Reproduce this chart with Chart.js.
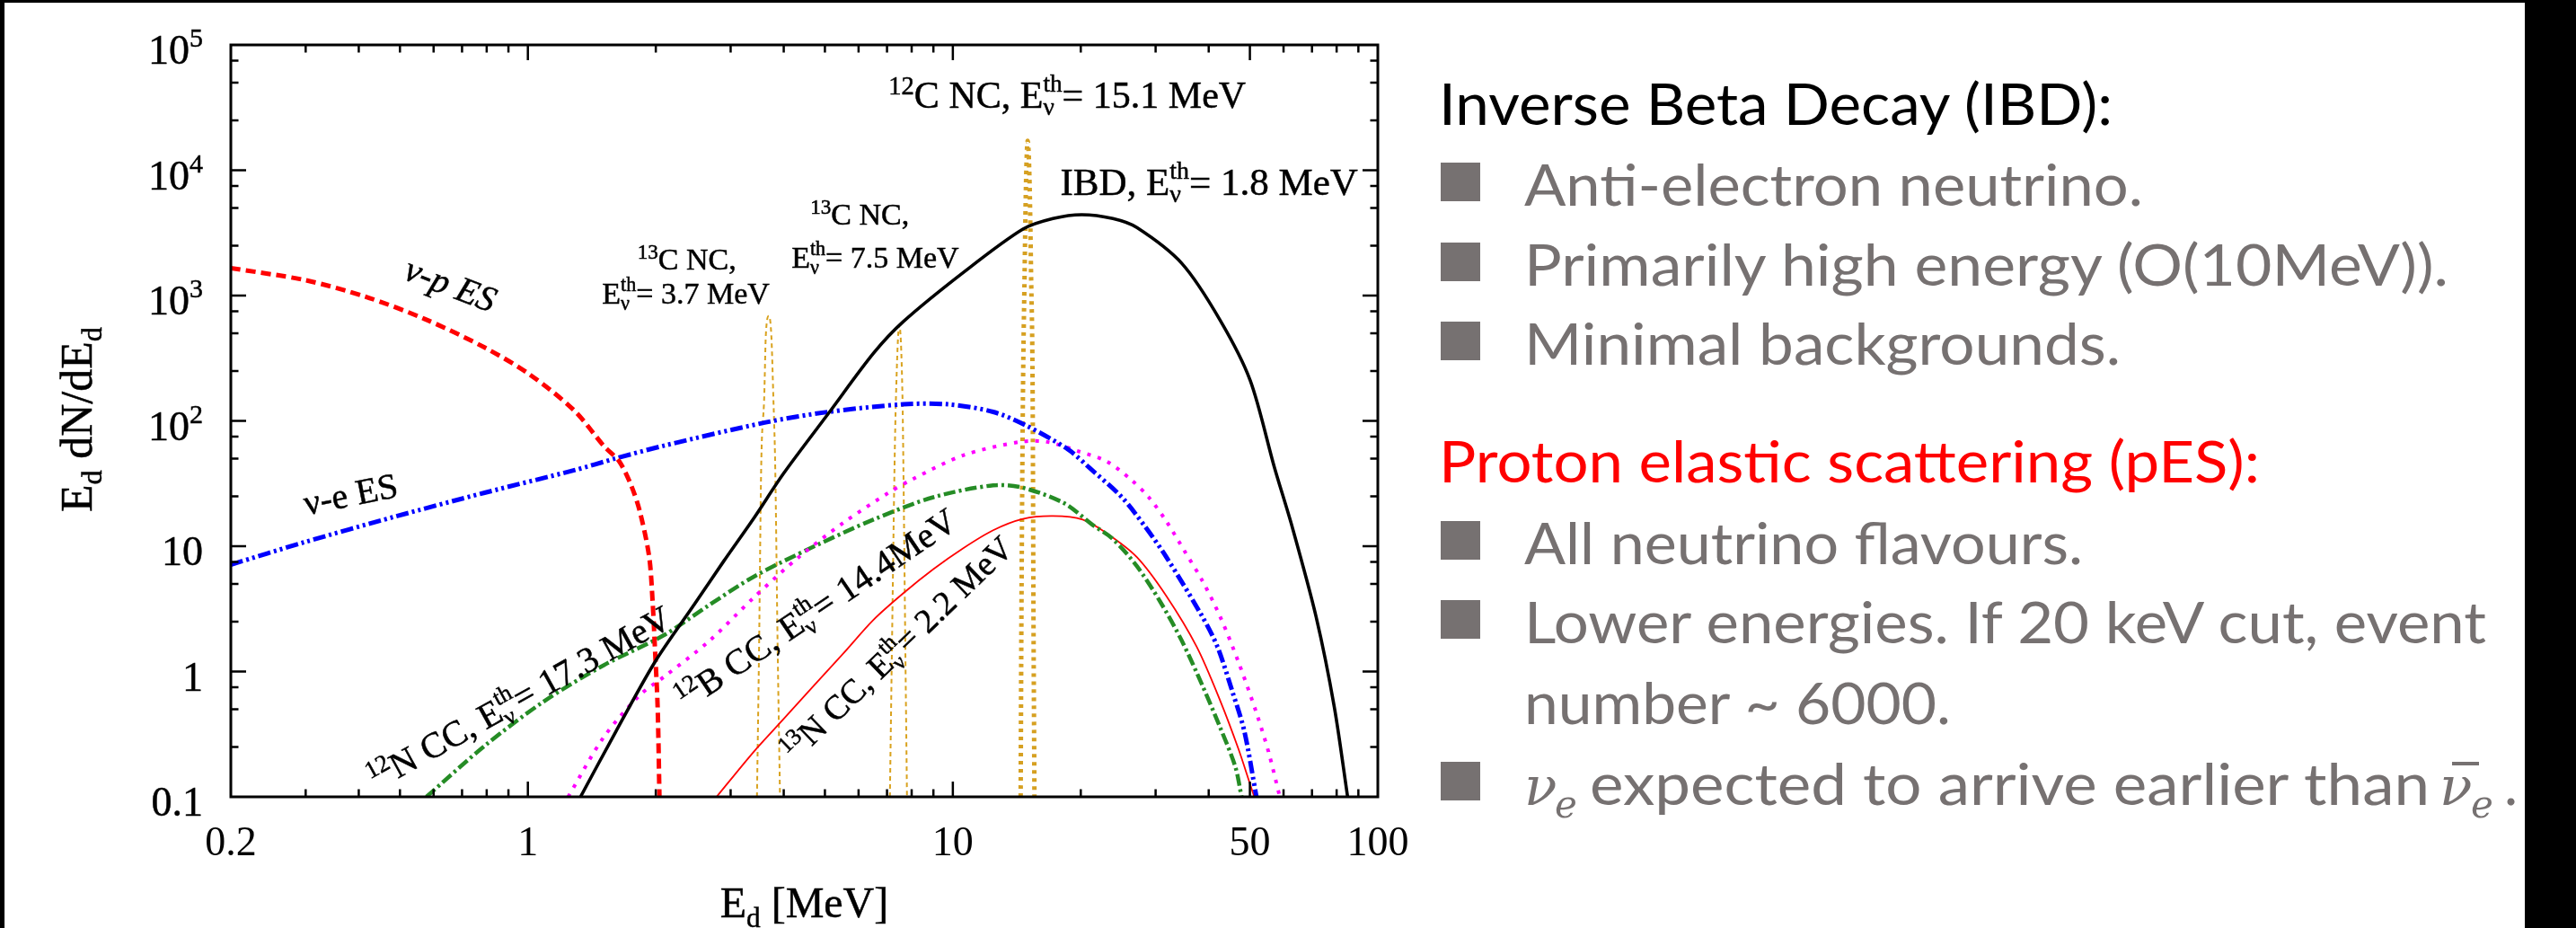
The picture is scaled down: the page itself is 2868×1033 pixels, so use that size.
<!DOCTYPE html>
<html><head><meta charset="utf-8">
<script src="https://cdn.jsdelivr.net/npm/chart.js@4.4.1/dist/chart.umd.min.js"></script>
<style>
html,body{margin:0;padding:0;background:#fff;}
#wrap{position:relative;width:2868px;height:1033px;overflow:hidden;background:#fff;}
#cv{position:absolute;left:0;top:0;}
#panel{position:absolute;left:0;top:0;}
.bar{position:absolute;background:#000;}
</style></head><body>
<div id="wrap">
<canvas id="cv" width="2868" height="1033"></canvas>
<svg id="panel" width="2868" height="1033" xmlns="http://www.w3.org/2000/svg"></svg>
<div class="bar" style="left:0;top:0;width:2868px;height:3px"></div>
<div class="bar" style="left:0;top:0;width:5px;height:1033px"></div>
<div class="bar" style="left:2811px;top:0;width:57px;height:1033px"></div>
</div>
<script>
// ---------------- DATA ----------------
const xTickValues = [0.2,0.3,0.4,0.5,0.6,0.7,0.8,0.9,1,2,3,4,5,6,7,8,9,10,20,30,40,50,60,70,80,90,100];
const xMajorTicks = [1,10,50];
const xLabelValues = [0.2,1,10,50,100];
const yTickValues = [0.1,0.25,0.5,0.75,1,2.5,5,7.5,10,25,50,75,100,250,500,750,1e3,2.5e3,5e3,7.5e3,1e4,2.5e4,5e4,7.5e4,1e5];
const yLabelValues = [0.1,1,10,100,1e3,1e4,1e5];
const yLabelTexts = ['0.1','1','10','10^2','10^3','10^4','10^5'];

// nu-p elastic scattering (red dashed)
const vpX = [0.2,0.299,0.414,0.572,0.791,1.009,1.286,1.512,1.64,1.75,1.836,1.93,1.966,1.99,2.02,2.04];
const vpY = [1656,1328,982,650,385,235,121,62.6,47.6,30.6,18.7,8.18,3.58,1.57,0.52,0.1];
// nu-e elastic scattering (blue dash-dot-dot)
const veX = [0.2,0.299,0.486,0.791,1.286,1.614,2.09,3.63,5.1,7.65,9.76,12.44,14.86,18.66,20.9,24.98,28.4,31.8,38.7,41.96,45.5,48.5,51.8];
const veY = [7.13,10.8,17.2,26.7,40.4,50.3,63.4,97.3,118,135.5,135.5,118,92,59.3,42.6,24.6,14.2,8.18,2.72,1.57,0.687,0.336,0.1];
// IBD (black solid)
const ibdX = [1.33,1.614,1.99,2.46,2.89,3.4,4.0,5.1,6.5,7.65,10.58,14.62,17.2,20.1,23.8,27.1,34.6,42.6,50.1,57.1,62.9,71.6,79.0,84.9];
const ibdY = [0.1,0.336,1.19,3.4,7.6,16.7,38.2,115,345,620,1525,3388,4110,4420,4110,3486,1800,632,210,42.6,14.2,2.72,0.52,0.1];
// 12B CC (magenta dotted)
const b12X = [1.244,1.51,1.836,2.09,2.67,3.4,4.34,5.53,7.06,8.03,10.58,14.4,16.66,19.6,23.0,26.2,28.9,31.8,35.1,38.7,42.6,47.0,51.8,55.3,58.8];
const b12Y = [0.1,0.301,0.65,0.906,1.75,3.89,8.18,15.4,26.7,34.2,53.1,68,68,57.7,47.6,34.2,24.6,15.8,9.13,5.26,2.72,1.19,0.468,0.229,0.1];
// 12N CC (green dash-dot)
const n12X = [0.577,0.791,1.094,1.512,2.09,2.67,3.4,4.7,6.5,9.0,12.44,14.6,18.3,21.2,23.8,27.1,30.8,34.6,38.7,42.6,46.2,47.8];
const n12Y = [0.1,0.255,0.582,1.127,1.95,3.39,5.71,9.91,16.3,24.6,30.6,29.3,22,15.0,11.4,6.93,3.58,1.75,0.767,0.355,0.174,0.1];
// 13N CC (thin red)
const n13X = [2.78,3.4,4.0,4.7,5.53,6.5,7.65,9.0,10.58,12.44,14.62,17.2,20.2,23.0,27.1,31.8,37.5,42.6,47.0,50.1,51.2];
const n13Y = [0.1,0.229,0.419,0.767,1.40,2.58,4.22,6.56,9.64,13.4,16.5,17.4,16.3,12.7,8.18,4.0,1.57,0.582,0.241,0.125,0.1];
// 13C NC 3.7 MeV line
const c13aX = [3.46,3.50,3.54,3.60,3.63,3.69,3.74,3.78,3.82,3.87,3.92];
const c13aY = [0.1,1.57,42.6,160,481,686,481,160,42.6,1.57,0.1];
// 13C NC 7.5 MeV line
const c13bX = [7.11,7.19,7.29,7.35,7.48,7.61,7.65,7.73,7.80];
const c13bY = [0.1,1.57,42.6,160,582,160,42.6,1.57,0.1];
// 12C NC 15.1 MeV line
const c12X = [14.44,14.5,14.62,14.75,14.86,15.0,15.16,15.28,15.41,15.48,15.56];
const c12Y = [0.1,2.72,160,1443,7520,17170,7520,1443,160,2.72,0.1];

// annotation texts (anchored in data coordinates)
const annotations = [
  {segs:[{sup:'12'},'C NC, E',{ss:['ν','th']},'= 15.1 MeV'], x:7.06, y:31470, size:42},
  {segs:['IBD, E',{ss:['ν','th']},'= 1.8 MeV'], x:17.9, y:6377, size:43},
  {segs:[{sup:'13'},'C NC,'], x:4.62, y:3681, size:34},
  {segs:['E',{ss:['ν','th']},'= 7.5 MeV'], x:4.17, y:1666, size:34},
  {segs:[{sup:'13'},'C NC,'], x:1.81, y:1611, size:34},
  {segs:['E',{ss:['ν','th']},'= 3.7 MeV'], x:1.495, y:861, size:34},
  {segs:['ν-p ES'], x:0.506, y:1366, size:40, italic:true, angle:21},
  {segs:['ν-e ES'], x:0.301, y:17.7, size:40, angle:-11.3},
  {segs:[{sup:'12'},'N CC, E',{ss:['ν','th']},'= 17.3 MeV'], x:0.44, y:0.112, size:40, angle:-29},
  {segs:[{sup:'12'},'B CC, E',{ss:['ν','th']},'= 14.4MeV'], x:2.36, y:0.485, size:40, angle:-34},
  {segs:[{sup:'13'},'N CC, E',{ss:['ν','th']},'= 2.2 MeV'], x:4.25, y:0.186, size:38, angle:-44}
];
const xTitle = ['E',{sub:'d'},' [MeV]'];
const yTitle = ['E',{sub:'d'},' dN/dE',{sub:'d'}];

// right-hand text panel
const panelLines = [
  {text:'Inverse Beta Decay (IBD):', x:1602, base:139, w:750, color:'#000000'},
  {text:'Anti-electron neutrino.', x:1697, base:229, w:689, color:'#767171', bullet:true},
  {text:'Primarily high energy (O(10MeV)).', x:1697, base:318, w:1029, color:'#767171', bullet:true},
  {text:'Minimal backgrounds.', x:1697, base:406, w:664, color:'#767171', bullet:true},
  {text:'Proton elastic scattering (pES):', x:1602, base:537, w:914, color:'#ff0000'},
  {text:'All neutrino flavours.', x:1697, base:628, w:622, color:'#767171', bullet:true},
  {text:'Lower energies. If 20 keV cut, event', x:1697, base:716, w:1071, color:'#767171', bullet:true},
  {text:'number ~ 6000.', x:1697, base:806, w:475, color:'#767171'},
  {text:' expected to arrive earlier than ', x:1770, base:896, w:935, color:'#767171', bullet:true}
];

// ---------------- RENDER ----------------
const SERIF = '"Liberation Serif","Times New Roman",serif';
const mk = (xs, ys) => xs.map((x, i) => ({x, y: ys[i]}));
const smooth = {pointRadius:0, fill:false, tension:0.3, borderCapStyle:'butt', borderJoinStyle:'round'};
const peak = {pointRadius:0, fill:false, cubicInterpolationMode:'monotone', borderCapStyle:'butt', borderJoinStyle:'round'};

function segFont(size, italic){ return (italic?'italic ':'') + size + 'px ' + SERIF; }
function richMeasure(ctx, segs, size, italic){
  let w = 0;
  for (const s of segs){
    if (typeof s === 'string'){ ctx.font = segFont(size, italic); w += ctx.measureText(s).width; }
    else if (s.sup){ ctx.font = segFont(size*0.68, italic); w += ctx.measureText(s.sup).width; }
    else if (s.sub){ ctx.font = segFont(size*0.65, italic); w += ctx.measureText(s.sub).width; }
    else if (s.ss){ ctx.font = segFont(size*0.65, italic); w += Math.max(ctx.measureText(s.ss[0]).width, ctx.measureText(s.ss[1]).width); }
  }
  return w;
}
function richDraw(ctx, segs, x, y, o){
  const size = o.size, italic = !!o.italic;
  ctx.save();
  ctx.translate(x, y);
  ctx.rotate((o.angle||0)*Math.PI/180);
  ctx.fillStyle = o.color || '#000';
  ctx.strokeStyle = o.color || '#000';
  ctx.lineWidth = 0.5;
  ctx.textBaseline = 'alphabetic';
  ctx.textAlign = 'left';
  const put = (t, px, py) => { ctx.fillText(t, px, py); ctx.strokeText(t, px, py); };
  let cx = 0;
  if (o.align === 'center') cx = -richMeasure(ctx, segs, size, italic)/2;
  for (const s of segs){
    if (typeof s === 'string'){ ctx.font = segFont(size, italic); put(s, cx, 0); cx += ctx.measureText(s).width; }
    else if (s.sup){ ctx.font = segFont(size*0.68, italic); put(s.sup, cx, -size*0.36); cx += ctx.measureText(s.sup).width; }
    else if (s.sub){ ctx.font = segFont(size*0.65, italic); put(s.sub, cx, size*0.22); cx += ctx.measureText(s.sub).width; }
    else if (s.ss){ ctx.font = segFont(size*0.65, italic);
      put(s.ss[0], cx, size*0.2); put(s.ss[1], cx, -size*0.42);
      cx += Math.max(ctx.measureText(s.ss[0]).width, ctx.measureText(s.ss[1]).width); }
  }
  ctx.restore();
}

const decor = {
  id:'decor',
  afterDatasetsDraw(chart){
    const {ctx, chartArea:a, scales:{x, y}} = chart;
    ctx.save();
    ctx.strokeStyle = '#000'; ctx.lineWidth = 2.5; ctx.lineCap = 'butt';
    ctx.beginPath();
    for (const v of xTickValues){
      if (v <= 0.2 || v >= 100) continue;
      const px = x.getPixelForValue(v); const L = xMajorTicks.includes(v) ? 17 : 8.5;
      ctx.moveTo(px, a.bottom); ctx.lineTo(px, a.bottom - L);
      ctx.moveTo(px, a.top); ctx.lineTo(px, a.top + L);
    }
    for (const v of yTickValues){
      if (v <= 0.1 || v >= 1e5) continue;
      const py = y.getPixelForValue(v); const L = yLabelValues.includes(v) ? 17 : 8.5;
      ctx.moveTo(a.left, py); ctx.lineTo(a.left + L, py);
      ctx.moveTo(a.right, py); ctx.lineTo(a.right - L, py);
    }
    ctx.stroke();
    ctx.lineWidth = 3;
    ctx.strokeRect(a.left, a.top, a.right - a.left, a.bottom - a.top);
    ctx.restore();
  },
  afterDraw(chart){
    const {ctx, chartArea:a, scales:{x, y}} = chart;
    // y tick labels with superscripts
    ctx.save();
    ctx.fillStyle = '#000'; ctx.strokeStyle = '#000'; ctx.lineWidth = 0.5;
    yLabelValues.forEach((v, i) => {
      const py = y.getPixelForValue(v);
      const t = yLabelTexts[i].split('^');
      ctx.font = '46px ' + SERIF;
      const wb = ctx.measureText(t[0]).width;
      let ws = 0;
      if (t[1]){ ctx.font = '30px ' + SERIF; ws = ctx.measureText(t[1]).width; }
      const right = 226;
      ctx.textAlign = 'left'; ctx.textBaseline = 'alphabetic';
      ctx.font = '46px ' + SERIF;
      ctx.fillText(t[0], right - ws - wb, py + 21); ctx.strokeText(t[0], right - ws - wb, py + 21);
      if (t[1]){ ctx.font = '30px ' + SERIF; ctx.fillText(t[1], right - ws, py + 2); ctx.strokeText(t[1], right - ws, py + 2); }
    });
    ctx.restore();
    // axis titles
    richDraw(ctx, xTitle, (a.left + a.right)/2, 1021, {size:48, align:'center'});
    richDraw(ctx, yTitle, 102, 467, {size:50, align:'center', angle:-90});
    // annotations
    for (const an of annotations){
      richDraw(ctx, an.segs, x.getPixelForValue(an.x), y.getPixelForValue(an.y), an);
    }
  }
};

const chart = new Chart(document.getElementById('cv'), {
  type:'line',
  data:{datasets:[
    {...smooth, label:'IBD', data:mk(ibdX, ibdY), borderColor:'#000000', borderWidth:3.6},
    {...smooth, label:'nu-p ES', data:mk(vpX, vpY), borderColor:'#ff0000', borderWidth:5, borderDash:[11,6]},
    {...smooth, label:'nu-e ES', data:mk(veX, veY), borderColor:'#0000ff', borderWidth:5, borderDash:[14,4,3,4,3,4]},
    {...smooth, label:'12B CC', data:mk(b12X, b12Y), borderColor:'#ff00ff', borderWidth:4, borderDash:[4,8]},
    {...smooth, label:'12N CC', data:mk(n12X, n12Y), borderColor:'#258c25', borderWidth:4.5, borderDash:[13,4,3,4]},
    {...smooth, label:'13N CC', data:mk(n13X, n13Y), borderColor:'#ff0000', borderWidth:1.8},
    {...peak, label:'13C NC 3.7', data:mk(c13aX, c13aY), borderColor:'#d9a21e', borderWidth:2, borderDash:[5,4]},
    {...peak, label:'13C NC 7.5', data:mk(c13bX, c13bY), borderColor:'#d9a21e', borderWidth:2, borderDash:[5,4]},
    {...peak, label:'12C NC 15.1', data:mk(c12X, c12Y), borderColor:'#d6a021', borderWidth:5, borderDash:[4,5]}
  ]},
  options:{
    responsive:false, animation:false, devicePixelRatio:1,
    layout:{padding:{left:0, top:50, right:1334, bottom:0}},
    plugins:{legend:{display:false}, tooltip:{enabled:false}},
    scales:{
      x:{type:'logarithmic', min:0.2, max:100,
        grid:{display:false}, border:{display:false},
        afterBuildTicks:(s) => { s.ticks = xTickValues.map(v => ({value:v})); },
        afterFit:(s) => { s.height = 146; },
        ticks:{autoSkip:false, maxRotation:0, minRotation:0, padding:17, color:'#000',
          font:{family:SERIF, size:46},
          callback:(v) => xLabelValues.includes(v) ? String(v) : ''}},
      y:{type:'logarithmic', min:0.1, max:1e5,
        grid:{display:false}, border:{display:false},
        afterBuildTicks:(s) => { s.ticks = yTickValues.map(v => ({value:v})); },
        afterFit:(s) => { s.width = 257; },
        ticks:{display:false}}
    }
  },
  plugins:[decor]
});

// right panel as SVG text
const NS = 'http://www.w3.org/2000/svg';
const svg = document.getElementById('panel');
function el(tag, attrs, parent){ const e = document.createElementNS(NS, tag); for (const k in attrs) e.setAttribute(k, attrs[k]); (parent||svg).appendChild(e); return e; }
const SANS = 'Lato, Carlito, Calibri, sans-serif';
for (const L of panelLines){
  if (L.bullet) el('rect', {x:1604, y:L.base-48, width:44, height:43, fill:'#767171'});
  const t = el('text', {x:L.x, y:L.base, 'font-family':SANS, 'font-size':64, fill:L.color, textLength:L.w, lengthAdjust:'spacingAndGlyphs'});
  t.textContent = L.text;
}
// last bullet: nu_e ... anti-nu_e
const MATH = '"DejaVu Serif","Liberation Serif",serif';
let t1 = el('text', {x:1697, y:896, 'font-family':MATH, 'font-style':'italic', 'font-size':60, fill:'#767171'}); t1.textContent = 'ν';
let t2 = el('text', {x:1731, y:910, 'font-family':MATH, 'font-style':'italic', 'font-size':42, fill:'#767171'}); t2.textContent = 'e';
let t3 = el('text', {x:2716, y:896, 'font-family':MATH, 'font-style':'italic', 'font-size':60, fill:'#767171'}); t3.textContent = 'ν';
let t4 = el('text', {x:2751, y:910, 'font-family':MATH, 'font-style':'italic', 'font-size':42, fill:'#767171'}); t4.textContent = 'e';
el('rect', {x:2730, y:848, width:30, height:4, fill:'#767171'});
let t5 = el('text', {x:2788, y:896, 'font-family':SANS, 'font-size':64, fill:'#767171'}); t5.textContent = '.';
</script>
</body></html>
